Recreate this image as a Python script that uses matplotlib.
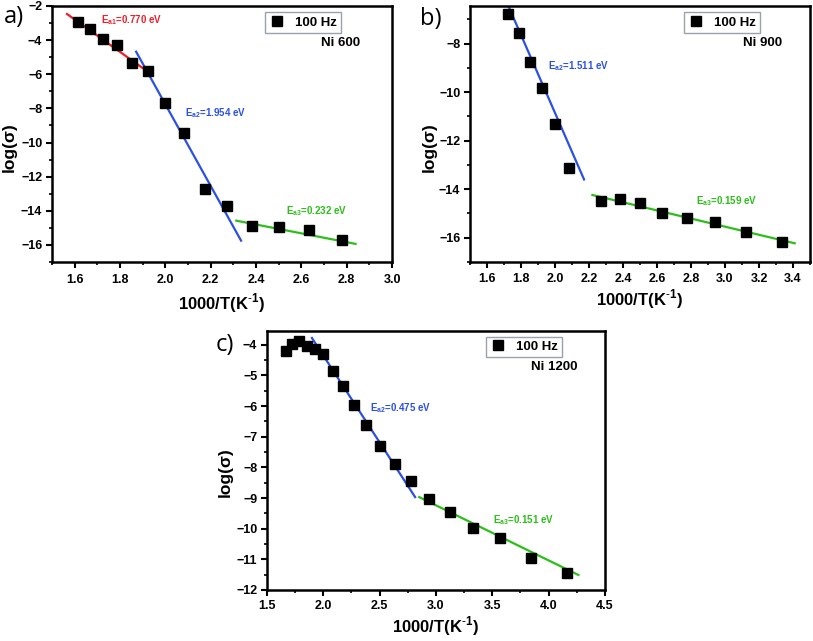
import matplotlib
matplotlib.use("Agg")
import matplotlib.pyplot as plt
from matplotlib.ticker import MultipleLocator
from matplotlib.lines import Line2D

plt.rcParams['font.family'] = ['Liberation Sans', 'DejaVu Sans']
plt.rcParams['mathtext.fontset'] = 'custom'
plt.rcParams['mathtext.rm'] = 'Liberation Sans'
plt.rcParams['mathtext.bf'] = 'Liberation Sans:bold'

RED = "#f01e28"
BLUE = "#2a50e6"
GREEN = "#2cbf18"

# ---- panel a : Ni 600 ----
a_x = [1.613, 1.667, 1.724, 1.786, 1.852, 1.923, 2.000, 2.083, 2.174, 2.273, 2.381, 2.500, 2.632, 2.778]
a_y = [-2.95, -3.35, -3.92, -4.28, -5.33, -5.83, -7.68, -9.44, -12.75, -13.72, -14.91, -14.98, -15.12, -15.74]
a_fit_red = ([1.566, 1.942], [-2.47, -6.04])
a_fit_blue = ([1.871, 2.334], [-4.68, -15.75])
a_fit_green = ([2.313, 2.839], [-14.58, -15.94])

# ---- panel b : Ni 900 ----
b_x = [1.724, 1.786, 1.852, 1.923, 2.000, 2.083, 2.273, 2.381, 2.500, 2.632, 2.778, 2.941, 3.125, 3.333]
b_y = [-6.77, -7.56, -8.77, -9.82, -11.33, -13.14, -14.49, -14.42, -14.56, -15.00, -15.17, -15.35, -15.75, -16.16]
b_fit_blue = ([1.71, 2.171], [-6.2, -13.6])
b_fit_green = ([2.220, 3.410], [-14.24, -16.23])

# ---- panel c : Ni 1200 ----
c_x = [1.667, 1.724, 1.786, 1.852, 1.923, 2.000, 2.083, 2.174, 2.273, 2.381, 2.500, 2.632, 2.778,
       2.941, 3.125, 3.333, 3.571, 3.846, 4.167]
c_y = [-4.20, -3.98, -3.89, -4.03, -4.14, -4.30, -4.85, -5.36, -5.96, -6.63, -7.29, -7.90, -8.46,
       -9.04, -9.44, -9.98, -10.31, -10.96, -11.45]
c_fit_blue = ([1.899, 2.815], [-3.78, -8.97])
c_fit_green = ([2.851, 4.264], [-8.97, -11.51])

XLABEL = r'1000/T(K$^{\mathbf{\text{-}1}}$)'


def style_axes(ax, xmaj, xmin, ymaj, ymin, xpad=3):
    for s in ax.spines.values():
        s.set_linewidth(1.8)
    ax.xaxis.set_major_locator(MultipleLocator(xmaj))
    ax.xaxis.set_minor_locator(MultipleLocator(xmin))
    ax.yaxis.set_major_locator(MultipleLocator(ymaj))
    ax.yaxis.set_minor_locator(MultipleLocator(ymin))
    ax.tick_params(which='major', direction='out', length=4, width=1.5, labelsize=9, pad=3)
    ax.tick_params(axis='x', which='major', pad=xpad)
    ax.tick_params(which='minor', direction='out', length=2.5, width=1.2)
    for lab in ax.get_xticklabels() + ax.get_yticklabels():
        lab.set_fontweight('bold')


def decorate(ax, name, leg_anchor, name_pos, ylab_pos, xlab_pos):
    h = Line2D([], [], marker='s', color='black', linestyle='none', markersize=7)
    leg = ax.legend([h], ['100 Hz'], loc='upper right', bbox_to_anchor=leg_anchor,
                    frameon=True, fancybox=False, edgecolor='#9aa3ad', framealpha=1,
                    prop={'weight': 'bold', 'size': 9.5}, handlelength=1.2,
                    handletextpad=0.8, borderpad=0.3, borderaxespad=0)
    leg.get_frame().set_linewidth(1.0)
    ax.text(name_pos[0], name_pos[1], name, transform=ax.transAxes, ha='right', va='center',
            fontsize=9.5, fontweight='bold')
    ax.set_ylabel('log(σ)', fontsize=12.5, fontweight='bold')
    ax.set_xlabel(XLABEL, fontsize=12, fontweight='bold')
    ax.yaxis.set_label_coords(*ylab_pos)
    ax.xaxis.set_label_coords(*xlab_pos)


fig = plt.figure(figsize=(8.13, 6.41), dpi=100)

# panel a
ax = fig.add_axes([0.0640, 0.5913, 0.4182, 0.3994])
ax.plot(a_x, a_y, 's', color='black', markersize=7, zorder=3)
ax.plot(*a_fit_red, color=RED, lw=1.6)
ax.plot(*a_fit_blue, color=BLUE, lw=1.6)
ax.plot(*a_fit_green, color=GREEN, lw=1.6)
ax.set_xlim(1.5, 3.0)
ax.set_ylim(-17, -2)
style_axes(ax, 0.2, 0.1, 2, 1, xpad=5)
ax.text(1.716, -2.82, r'$\mathbf{E_{a1}}$=0.770 eV', color=RED, fontsize=7, fontweight='bold', va='center')
ax.text(2.086, -8.27, r'$\mathbf{E_{a2}}$=1.954 eV', color=BLUE, fontsize=7, fontweight='bold', va='center')
ax.text(2.532, -13.99, r'$\mathbf{E_{a3}}$=0.232 eV', color=GREEN, fontsize=7, fontweight='bold', va='center')
decorate(ax, 'Ni 600', (0.85, 0.975), (0.906, 0.855), (-0.103, 0.45), (0.5, -0.113))

# panel b
ax = fig.add_axes([0.5781, 0.5913, 0.4182, 0.3994])
ax.plot(b_x, b_y, 's', color='black', markersize=7, zorder=3)
ax.plot(*b_fit_blue, color=BLUE, lw=1.6)
ax.plot(*b_fit_green, color=GREEN, lw=1.6)
ax.set_xlim(1.5, 3.5)
ax.set_ylim(-17, -6.45)
style_axes(ax, 0.2, 0.1, 2, 1, xpad=4)
ax.text(1.956, -8.93, r'$\mathbf{E_{a2}}$=1.511 eV', color=BLUE, fontsize=7, fontweight='bold', va='center')
ax.text(2.827, -14.49, r'$\mathbf{E_{a3}}$=0.159 eV', color=GREEN, fontsize=7, fontweight='bold', va='center')
decorate(ax, 'Ni 900', (0.853, 0.975), (0.918, 0.855), (-0.097, 0.45), (0.5, -0.10))

# panel c
ax = fig.add_axes([0.3284, 0.0796, 0.4157, 0.4041])
ax.plot(c_x, c_y, 's', color='black', markersize=7, zorder=3)
ax.plot(*c_fit_blue, color=BLUE, lw=1.6)
ax.plot(*c_fit_green, color=GREEN, lw=1.6)
ax.set_xlim(1.5, 4.5)
ax.set_ylim(-12, -3.55)
style_axes(ax, 0.5, 0.25, 1, 0.5, xpad=3)
ax.text(2.416, -6.07, r'$\mathbf{E_{a2}}$=0.475 eV', color=BLUE, fontsize=7, fontweight='bold', va='center')
ax.text(3.509, -9.71, r'$\mathbf{E_{a3}}$=0.151 eV', color=GREEN, fontsize=7, fontweight='bold', va='center')
decorate(ax, 'Ni 1200', (0.873, 0.977), (0.920, 0.861), (-0.10, 0.456), (0.5, -0.095))

# panel letters
fig.text(0.017, 0.973, 'a)', fontsize=17, family='Open Sans', ha='center', va='center')
fig.text(0.530, 0.970, 'b)', fontsize=17, family='Open Sans', ha='center', va='center')
fig.text(0.277, 0.462, 'c)', fontsize=17, family='Open Sans', ha='center', va='center')

fig.savefig('out.png', dpi=100)
